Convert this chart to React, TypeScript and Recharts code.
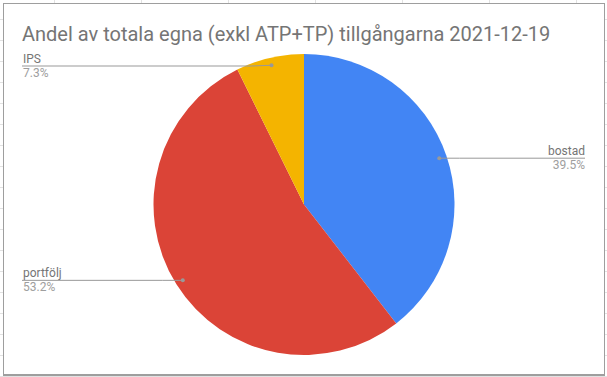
import { PieChart, Pie, Cell } from "recharts";

const categories = ["bostad", "portfölj", "IPS"];
const shares = [39.5, 53.2, 7.3];
const sliceColors = ["#4285F4", "#DB4437", "#F4B400"];
const title = "Andel av totala egna (exkl ATP+TP) tillgångarna 2021-12-19";

const data = categories.map((name, i) => ({ name, value: shares[i] }));

const RADIAN = Math.PI / 180;
const CHART_W = 600;
const CHART_H = 370;

const renderLabel = (props: any) => {
  const { cx, cy, midAngle, outerRadius, index, name, value } = props;
  const r = outerRadius * 0.95;
  const dx = cx + r * Math.cos(-midAngle * RADIAN);
  const dy = cy + r * Math.sin(-midAngle * RADIAN);
  const right = dx > cx;
  // keep the label clear of the title
  const lineY = Math.max(dy, 62);
  const endX = right ? 581 : 18;
  const elbowX = right ? dx + 20 : dx - 20;
  return (
    <g key={`lbl-${index}`}>
      <polyline
        points={`${dx},${dy} ${elbowX},${lineY} ${endX},${lineY}`}
        fill="none"
        stroke="#999"
        strokeWidth={1}
      />
      <circle cx={dx} cy={dy} r={2} fill="#999" />
      <text
        x={right ? endX : endX + 1}
        y={lineY - 3}
        textAnchor={right ? "end" : "start"}
        fill="#757575"
        fontSize={12}
        fontFamily="Roboto"
      >
        {name}
      </text>
      <text
        x={right ? endX : endX + 1}
        y={lineY + 11}
        textAnchor={right ? "end" : "start"}
        fill="#9e9e9e"
        fontSize={12}
        fontFamily="Roboto"
      >
        {value.toFixed(1)}%
      </text>
    </g>
  );
};

const App = () => {
  return (
    <div
      style={{
        position: "absolute",
        left: 0,
        top: 0,
        width: 607,
        height: 377,
        overflow: "hidden",
        background: "#fff",
        backgroundImage:
          "repeating-linear-gradient(to right, transparent 0 54px, #e2e2e2 54px 55px, transparent 55px 87px), repeating-linear-gradient(to bottom, transparent 0 19px, #e2e2e2 19px 20px, transparent 20px 21px)",
      }}
    >
      <div
        style={{
          position: "absolute",
          left: 3,
          top: 3,
          width: CHART_W,
          height: CHART_H,
          border: "1px solid #9e9e9e",
          borderBottomWidth: 2,
          background: "#fff",
        }}
      >
        <div
          style={{
            position: "absolute",
            left: 18,
            top: 20,
            fontFamily: "Roboto",
            fontSize: 20,
            lineHeight: "20px",
            color: "#757575",
            whiteSpace: "nowrap",
          }}
        >
          {title}
        </div>
        <PieChart
          width={CHART_W}
          height={CHART_H}
          margin={{ top: 0, right: 0, bottom: 0, left: 0 }}
        >
          <Pie
            data={data}
            dataKey="value"
            nameKey="name"
            cx={300}
            cy={200.5}
            outerRadius={150.5}
            startAngle={90}
            endAngle={-270}
            stroke="none"
            label={renderLabel}
            labelLine={false}
            isAnimationActive={false}
          >
            {data.map((d, i) => (
              <Cell key={d.name} fill={sliceColors[i]} />
            ))}
          </Pie>
        </PieChart>
      </div>
    </div>
  );
};

export default App;
